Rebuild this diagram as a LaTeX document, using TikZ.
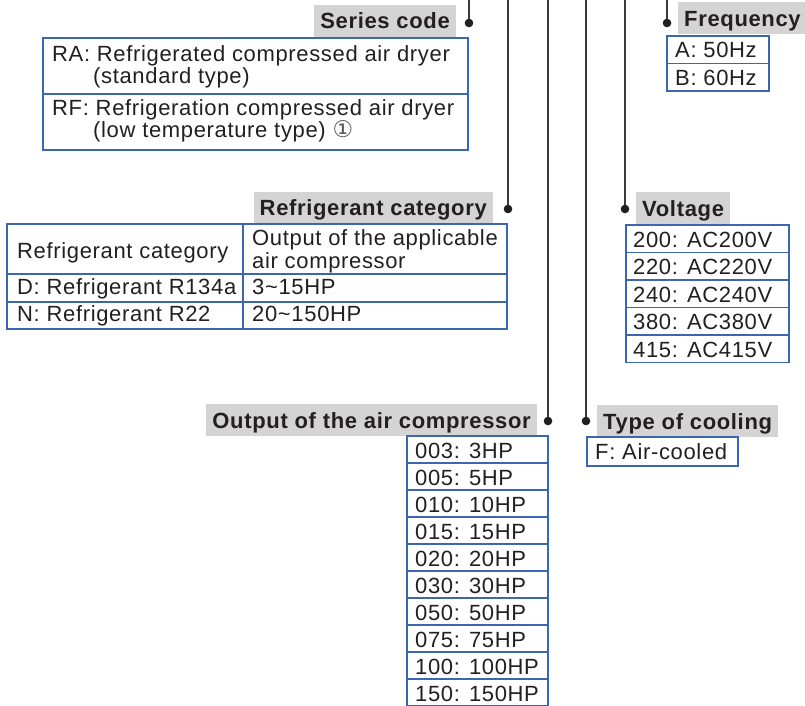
\documentclass[tikz,border=0pt]{standalone}
\usepackage{fontspec}
\setmainfont{Liberation Sans}[LetterSpace=3]
\newfontfamily\circfont{DejaVu Sans}
\usepackage{tikz}
\definecolor{ink}{HTML}{231F20}
\definecolor{tblue}{HTML}{3D66B0}
\definecolor{tagfill}{HTML}{D4D4D4}
\definecolor{leadgray}{HTML}{3A3A3A}
\tikzset{
    txt/.style={anchor=base west,inner sep=0pt,text=ink,font=\fontsize{22}{22}\selectfont},
    tag/.style={fill=tagfill,text=ink,font=\fontsize{22}{22}\selectfont\bfseries,inner xsep=6pt,inner ysep=0pt,text height=18pt,text depth=2pt,minimum height=32pt},
    cellline/.style={draw=tblue,line width=1.4pt},
    lead/.style={draw=leadgray,line width=1.2pt}
}

\begin{document}
\begin{tikzpicture}[x=1pt,y=-1pt]
\useasboundingbox (0,0) rectangle (805,705);
\foreach \x/\y/\p in {469/23/sc, 508/209/rc, 548/421/out, 586/421/cool, 625/209/volt, 667/23/freq}{
    \coordinate (top\p) at (\x,0);
    \coordinate (dot\p) at (\x,\y);
    \draw[lead] (top\p) -- (dot\p);
    \draw[fill=ink,draw=none] (dot\p) circle (4.3);
}
\node (sctag) at (456,20.5)[tag,anchor=east] {Series code};
\node (rctag) at (493,207.5)[tag,anchor=east] {Refrigerant category};
\node (outtag) at (537,420)[tag,anchor=east] {Output of the air compressor};
\node (cooltag) at (597,421)[tag,anchor=west] {Type of cooling};
\node (volttag) at (636,208)[tag,anchor=west] {Voltage};
\node (freqtag) at (678,18)[tag,anchor=west] {Frequency};
\draw[cellline] (43,38) rectangle (468,150);
\draw[cellline] (43,94) -- (468,94);
\node (ra) at (52,61)[txt] {RA: Refrigerated compressed air dryer};
\node (ra2) at (93,83)[txt] {(standard type)};
\node (rf) at (52,115)[txt] {RF: Refrigeration compressed air dryer};
\node (rf2) at (93,137)[txt] {(low temperature type) {\circfont\fontsize{23}{22}\selectfont\color{ink!75}①}};
\draw[cellline] (7,224) rectangle (507,329);
\draw[cellline] (7,274) -- (507,274);
\draw[cellline] (7,302) -- (507,302);
\draw[cellline] (243,224) -- (243,329);
\foreach \x/\y/\p/\t in {17/258/rch/Refrigerant category, 252/245/oh1/Output of the applicable, 252/268/oh2/air compressor, 17/294/rd/D: Refrigerant R134a, 252/294/hd/3\textasciitilde 15HP, 17/321/rn/N: Refrigerant R22, 252/321/hn/20\textasciitilde 150HP}{
    \node (\p) at (\x,\y)[txt] {\t};
}
\foreach \t [count=\i] in {A: 50Hz, B: 60Hz}{
    \pgfmathsetmacro{\r}{36+27.5*(\i-1)}
    \draw[cellline] (667,\r) rectangle (769,\r+27.5);
    \node (f\i) at (675,\r+21.5)[txt] {\t};
}
\foreach \t [count=\i] in {200: AC200V, 220: AC220V, 240: AC240V, 380: AC380V, 415: AC415V}{
    \pgfmathsetmacro{\r}{225+27.5*(\i-1)}
    \draw[cellline] (626,\r) rectangle (789,\r+27.5);
    \node (v\i) at (633,\r+22)[txt] {\t};
}
\draw[cellline] (587,437) rectangle (738,466);
\node (aircool) at (595,459)[txt] {F: Air-cooled};
\foreach \t [count=\i] in {003: 3HP, 005: 5HP, 010: 10HP, 015: 15HP, 020: 20HP, 030: 30HP, 050: 50HP, 075: 75HP, 100: 100HP, 150: 150HP}{
    \pgfmathsetmacro{\r}{436+27*(\i-1)}
    \draw[cellline] (407,\r) rectangle (548,\r+27);
    \node (o\i) at (415,\r+22)[txt] {\t};
}
\end{tikzpicture}
\end{document}
